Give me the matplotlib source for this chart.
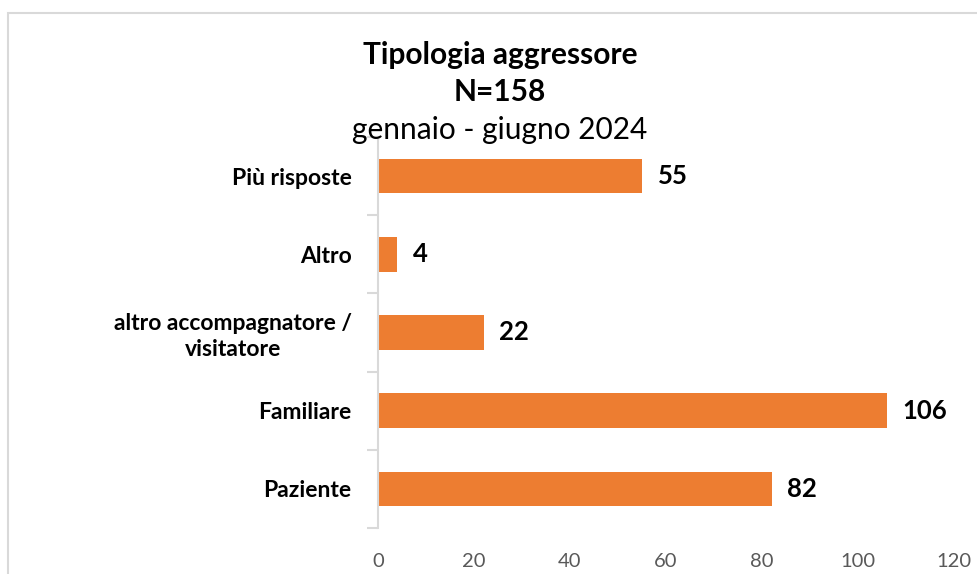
import numpy as np
import matplotlib.pyplot as plt
from matplotlib.patches import Rectangle

plt.rcParams['font.family'] = ['Lato', 'DejaVu Sans']

categorie = ['Più risposte', 'Altro', 'altro accompagnatore /\nvisitatore', 'Familiare', 'Paziente']
valori = [55, 4, 22, 106, 82]
xticks = [0, 20, 40, 60, 80, 100, 120]

W, H = 978, 574
fig = plt.figure(figsize=(W / 100, H / 100), dpi=100)

# cornice grigia del grafico (tagliata a destra e in basso)
fig.patches.append(Rectangle((8 / W, -0.1), 1.2, 1 - 13 / H + 0.1, transform=fig.transFigure,
                             fill=False, edgecolor='#D9D9D9', linewidth=1.5))

ax = fig.add_axes([378 / W, 1 - 528 / H, (954 - 378) / W, (528 - 137) / H])

y = np.arange(len(categorie))[::-1]
ax.barh(y, valori, height=0.44, color='#ED7D31')

for yi, v in zip(y, valori):
    ax.text(v + 3.3, yi, str(v), va='center', ha='left', fontsize=18.5, fontweight='bold', color='black')

ax.set_xlim(0, 120)
ax.set_ylim(-0.5, len(categorie) - 0.5)
ax.set_xticks(xticks)
ax.set_xticklabels([str(t) for t in xticks], fontsize=14.5, color='#595959')
ax.tick_params(axis='x', length=0, pad=18)

ax.set_yticks(y)
ax.set_yticklabels(categorie, fontsize=16.5, fontweight='bold', color='black', multialignment='center',
                   linespacing=1.25)
ax.tick_params(axis='y', which='major', length=0, pad=19)
ax.set_yticks(np.arange(-0.5, len(categorie)), minor=True)
ax.tick_params(axis='y', which='minor', length=8, color='#D9D9D9', width=1.5)

for s in ['top', 'right', 'bottom']:
    ax.spines[s].set_visible(False)
ax.spines['left'].set_color('#D9D9D9')
ax.spines['left'].set_linewidth(1.5)

fig.text(500 / W, 1 - 55 / H, 'Tipologia aggressore', ha='center', va='center', fontsize=21.5, fontweight='bold')
fig.text(500 / W, 1 - 92 / H, 'N=158', ha='center', va='center', fontsize=21.5, fontweight='bold')
fig.text(500 / W, 1 - 130 / H, 'gennaio - giugno 2024', ha='center', va='center', fontsize=21.5)

fig.savefig('out.png', dpi=100)
